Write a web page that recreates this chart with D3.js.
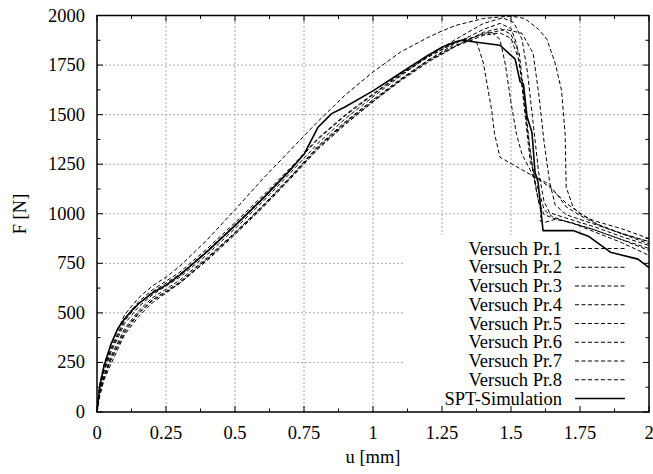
<!DOCTYPE html>
<html>
<head>
<meta charset="utf-8">
<script src="https://cdn.jsdelivr.net/npm/d3@7"></script>
</head>
<body style="margin:0">
<svg id="chart" width="653" height="474"></svg>
<script>
// ---------------- DATA ----------------
const xTicks = [0, 0.25, 0.5, 0.75, 1, 1.25, 1.5, 1.75, 2];
const xTickLabels = ["0", "0.25", "0.5", "0.75", "1", "1.25", "1.5", "1.75", "2"];
const yTicks = [0, 250, 500, 750, 1000, 1250, 1500, 1750, 2000];
const yTickLabels = ["0", "250", "500", "750", "1000", "1250", "1500", "1750", "2000"];
const xLabel = "u [mm]";
const yLabel = "F [N]";
const seriesNames = ["Versuch Pr.1", "Versuch Pr.2", "Versuch Pr.3", "Versuch Pr.4",
                     "Versuch Pr.5", "Versuch Pr.6", "Versuch Pr.7", "Versuch Pr.8", "SPT-Simulation"];

const uPr1 = [0, 0.01, 0.025, 0.05, 0.1, 0.15, 0.2, 0.25, 0.3, 0.4, 0.5, 0.6, 0.7, 0.8, 0.9, 1.0, 1.1, 1.2, 1.3, 1.34, 1.377, 1.40, 1.43, 1.44, 1.46, 1.53, 1.605, 1.64, 1.70, 1.75, 1.82, 1.9, 2.0];
const fPr1 = [0, 120, 210, 310, 460, 545, 605, 650, 695, 815, 945, 1080, 1225, 1375, 1495, 1600, 1700, 1790, 1865, 1885, 1860, 1760, 1522, 1406, 1285, 1230, 1169, 1134, 1053, 1003, 940, 900, 860];

const uPr2 = [0, 0.01, 0.025, 0.05, 0.1, 0.15, 0.2, 0.25, 0.3, 0.4, 0.5, 0.6, 0.7, 0.8, 0.9, 1.0, 1.1, 1.2, 1.3, 1.4, 1.43, 1.46, 1.48, 1.50, 1.52, 1.54, 1.57, 1.60, 1.62, 1.65, 1.7, 1.8, 1.9, 2.0];
const fPr2 = [0, 100, 180, 280, 420, 510, 575, 620, 665, 780, 905, 1040, 1185, 1340, 1465, 1575, 1680, 1775, 1850, 1910, 1915, 1880, 1750, 1560, 1400, 1300, 1220, 1120, 1020, 985, 960, 920, 870, 815];

const uPr3 = [0, 0.01, 0.025, 0.05, 0.1, 0.15, 0.2, 0.25, 0.3, 0.4, 0.5, 0.6, 0.7, 0.8, 0.9, 1.0, 1.1, 1.2, 1.3, 1.4, 1.46, 1.5, 1.52, 1.54, 1.56, 1.58, 1.60, 1.62, 1.66, 1.72, 1.8, 1.9, 2.0];
const fPr3 = [0, 90, 170, 260, 400, 495, 560, 605, 650, 765, 895, 1030, 1175, 1325, 1450, 1565, 1675, 1775, 1860, 1930, 1960, 1935, 1860, 1660, 1420, 1210, 1060, 995, 975, 955, 910, 855, 790];

const uPr4 = [0, 0.01, 0.025, 0.05, 0.1, 0.15, 0.2, 0.25, 0.3, 0.4, 0.5, 0.6, 0.7, 0.8, 0.9, 1.0, 1.1, 1.2, 1.3, 1.4, 1.47, 1.51, 1.54, 1.56, 1.58, 1.60, 1.62, 1.64, 1.7, 1.8, 1.9, 2.0];
const fPr4 = [0, 110, 200, 300, 445, 530, 590, 635, 680, 795, 925, 1060, 1205, 1355, 1480, 1590, 1695, 1795, 1880, 1960, 1988, 1965, 1880, 1710, 1460, 1210, 1060, 1005, 978, 935, 885, 840];

const uPr5 = [0, 0.01, 0.025, 0.05, 0.1, 0.15, 0.2, 0.25, 0.3, 0.4, 0.5, 0.6, 0.7, 0.8, 0.9, 1.0, 1.1, 1.2, 1.3, 1.4, 1.46, 1.5, 1.53, 1.55, 1.57, 1.59, 1.61, 1.605, 1.62, 1.66, 1.72, 1.8, 1.9, 2.0];
const fPr5 = [0, 80, 160, 240, 390, 480, 550, 600, 650, 770, 900, 1035, 1180, 1330, 1455, 1565, 1670, 1765, 1845, 1915, 1935, 1905, 1810, 1560, 1310, 1130, 1000, 965, 955, 972, 955, 920, 870, 825];

const uPr6 = [0, 0.01, 0.025, 0.05, 0.1, 0.15, 0.2, 0.25, 0.3, 0.4, 0.5, 0.6, 0.7, 0.8, 0.9, 1.0, 1.1, 1.2, 1.3, 1.4, 1.48, 1.54, 1.58, 1.60, 1.62, 1.64, 1.66, 1.7, 1.8, 1.9, 2.0];
const fPr6 = [0, 130, 220, 320, 470, 555, 615, 660, 705, 825, 955, 1090, 1230, 1380, 1500, 1605, 1705, 1795, 1865, 1905, 1930, 1910, 1810, 1610, 1360, 1160, 1045, 995, 948, 902, 858];

const uPr7 = [0, 0.01, 0.025, 0.05, 0.1, 0.15, 0.2, 0.25, 0.3, 0.4, 0.5, 0.6, 0.7, 0.8, 0.9, 1.0, 1.1, 1.2, 1.25, 1.3, 1.4, 1.5, 1.55, 1.6, 1.63, 1.66, 1.683, 1.696, 1.70, 1.725, 1.75, 1.8, 1.9, 2.0];
const fPr7 = [0, 140, 240, 335, 490, 575, 635, 680, 735, 870, 1020, 1175, 1320, 1465, 1600, 1715, 1816, 1890, 1922, 1950, 1985, 1997, 1985, 1930, 1880, 1760, 1623, 1406, 1134, 1033, 1000, 965, 925, 875];

const uPr8 = [0, 0.01, 0.025, 0.05, 0.1, 0.15, 0.2, 0.25, 0.3, 0.4, 0.5, 0.6, 0.7, 0.8, 0.9, 1.0, 1.1, 1.2, 1.3, 1.4, 1.46, 1.5, 1.53, 1.55, 1.57, 1.59, 1.63, 1.66, 1.7, 1.75, 1.8, 1.9, 2.0];
const fPr8 = [0, 95, 175, 270, 410, 500, 565, 610, 655, 775, 905, 1040, 1185, 1335, 1460, 1570, 1675, 1770, 1845, 1900, 1912, 1885, 1770, 1510, 1260, 1185, 1155, 1110, 1035, 992, 955, 900, 848];

const uSim = [0, 0.01, 0.025, 0.05, 0.075, 0.1, 0.125, 0.15, 0.2, 0.25, 0.3, 0.4, 0.5, 0.6, 0.7, 0.75, 0.8, 0.85, 0.9, 1.0, 1.1, 1.2, 1.25, 1.3, 1.32, 1.46, 1.515, 1.533, 1.545, 1.558, 1.576, 1.587, 1.598, 1.616, 1.725, 1.78, 1.86, 1.96, 2.0];
const fSim = [0, 130, 230, 340, 420, 470, 510, 545, 600, 640, 690, 810, 940, 1075, 1220, 1300, 1435, 1505, 1540, 1620, 1710, 1800, 1840, 1868, 1875, 1850, 1780, 1665, 1655, 1490, 1410, 1210, 1160, 915, 915, 887, 806, 771, 728];

const seriesU = [uPr1, uPr2, uPr3, uPr4, uPr5, uPr6, uPr7, uPr8, uSim];
const seriesF = [fPr1, fPr2, fPr3, fPr4, fPr5, fPr6, fPr7, fPr8, fSim];

// ---------------- LAYOUT ----------------
const svg = d3.select("#chart");
const L = 97, R = 649, T = 15.5, B = 412;
const x = d3.scaleLinear().domain([0, 2]).range([L, R]);
const y = d3.scaleLinear().domain([0, 2000]).range([B, T]);
const FS = 18.5;
function addText(px, py, str, anchor, transform) {
  const t = svg.append("text")
    .attr("font-family", "Liberation Serif")
    .attr("font-size", FS)
    .attr("fill", "#000")
    .attr("text-anchor", anchor);
  if (transform) t.attr("transform", transform);
  else t.attr("x", px).attr("y", py);
  t.text(str);
  return t;
}

// grid
const grid = svg.append("g");
grid.selectAll("line.vx").data(xTicks.slice(1, -1)).enter().append("line")
  .attr("x1", d => x(d)).attr("x2", d => x(d)).attr("y1", B).attr("y2", T)
  .attr("stroke", "#a8a8a8").attr("stroke-width", 1).attr("stroke-dasharray", "2,2");
grid.selectAll("line.hy").data(yTicks.slice(1, -1)).enter().append("line")
  .attr("x1", L).attr("x2", R).attr("y1", d => y(d)).attr("y2", d => y(d))
  .attr("stroke", "#a8a8a8").attr("stroke-width", 1).attr("stroke-dasharray", "2,2");

// opaque legend area
svg.append("rect").attr("x", 405).attr("y", 235).attr("width", R - 405).attr("height", B - 235).attr("fill", "#fff");

// curves
const line = d3.line().x(d => x(d[0])).y(d => y(d[1]));
seriesU.forEach((us, i) => {
  const pts = us.map((u, j) => [u, seriesF[i][j]]);
  const isSim = i === 8;
  svg.append("path").datum(pts).attr("d", line)
    .attr("fill", "none").attr("stroke", "#000")
    .attr("stroke-width", isSim ? 1.6 : 1)
    .attr("stroke-dasharray", isSim ? null : "4,2.5")
    .attr("stroke-linejoin", "round");
});

// legend
const legY0 = 248.5, legDY = 18.75;
seriesNames.forEach((name, i) => {
  const yy = legY0 + i * legDY;
  addText(562, yy + 6, name, "end");
  svg.append("line").attr("x1", 575).attr("x2", 625).attr("y1", yy).attr("y2", yy)
    .attr("stroke", "#000").attr("stroke-width", i === 8 ? 1.6 : 1)
    .attr("stroke-dasharray", i === 8 ? null : "4,2.5");
});

// frame
svg.append("rect").attr("x", L).attr("y", T).attr("width", R - L).attr("height", B - T)
  .attr("fill", "none").attr("stroke", "#000").attr("stroke-width", 1.5);

// ticks (major + minor, all four sides, inward)
const ticksG = svg.append("g").attr("stroke", "#000").attr("stroke-width", 1);
const xMinor = d3.range(0, 8).map(i => xTicks[i] + 0.125);
const yMinor = d3.range(0, 8).map(i => yTicks[i] + 125);
xTicks.forEach(t => {
  ticksG.append("line").attr("x1", x(t)).attr("x2", x(t)).attr("y1", B).attr("y2", B - 6);
  ticksG.append("line").attr("x1", x(t)).attr("x2", x(t)).attr("y1", T).attr("y2", T + 6);
});
xMinor.forEach(t => {
  ticksG.append("line").attr("x1", x(t)).attr("x2", x(t)).attr("y1", B).attr("y2", B - 3.5);
  ticksG.append("line").attr("x1", x(t)).attr("x2", x(t)).attr("y1", T).attr("y2", T + 3.5);
});
yTicks.forEach(t => {
  ticksG.append("line").attr("x1", L).attr("x2", L + 6).attr("y1", y(t)).attr("y2", y(t));
  ticksG.append("line").attr("x1", R).attr("x2", R - 6).attr("y1", y(t)).attr("y2", y(t));
});
yMinor.forEach(t => {
  ticksG.append("line").attr("x1", L).attr("x2", L + 3.5).attr("y1", y(t)).attr("y2", y(t));
  ticksG.append("line").attr("x1", R).attr("x2", R - 3.5).attr("y1", y(t)).attr("y2", y(t));
});

// tick labels
xTicks.forEach((t, i) => addText(x(t), 439, xTickLabels[i], "middle"));
yTicks.forEach((t, i) => addText(85, y(t) + 6, yTickLabels[i], "end"));

// axis titles
addText((L + R) / 2, 463, xLabel, "middle");
addText(0, 0, yLabel, "middle", "translate(26,214) rotate(-90)");
</script>
</body>
</html>
